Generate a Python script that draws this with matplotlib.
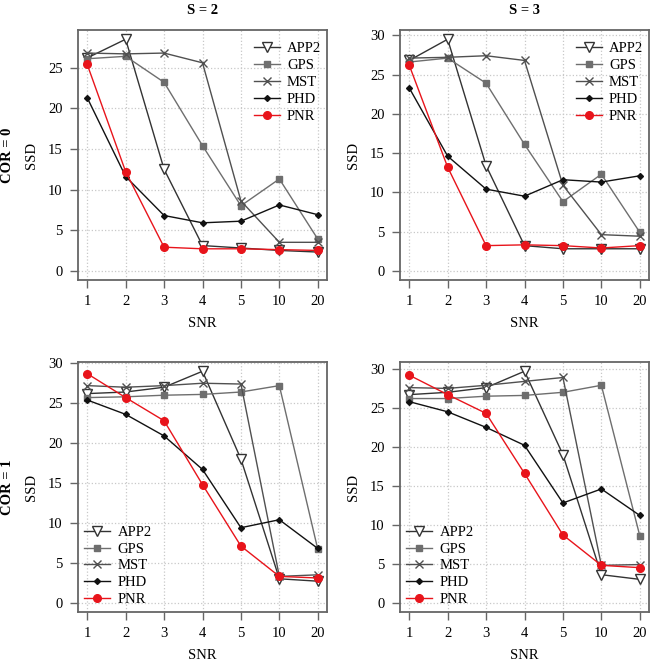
import numpy as np
import matplotlib
matplotlib.use("Agg")
import matplotlib.pyplot as plt

plt.rcParams['font.family'] = ['Liberation Serif', 'DejaVu Serif']

# x axis categories (SNR levels)
snr_labels = ['1', '2', '3', '4', '5', '10', '20']
methods = ['APP2', 'GPS', 'MST', 'PHD', 'PNR']

# COR = 0, S = 2
app2_c0_s2 = [26.2, 28.5, 12.5, 3.1, 2.8, 2.5, 2.3]
gps_c0_s2 = [26.1, 26.4, 23.2, 15.4, 8.0, 11.3, 3.9]
mst_c0_s2 = [26.8, 26.7, 26.8, 25.6, 8.6, 3.5, 3.5]
phd_c0_s2 = [21.3, 11.6, 6.8, 5.9, 6.1, 8.1, 6.9]
pnr_c0_s2 = [25.4, 12.2, 2.9, 2.7, 2.7, 2.6, 2.5]

# COR = 0, S = 3
app2_c0_s3 = [26.8, 29.5, 13.4, 3.2, 2.8, 2.8, 2.8]
gps_c0_s3 = [26.6, 27.1, 23.9, 16.1, 8.8, 12.3, 4.9]
mst_c0_s3 = [27.1, 27.2, 27.4, 26.8, 10.9, 4.6, 4.4]
phd_c0_s3 = [23.3, 14.6, 10.4, 9.5, 11.6, 11.3, 12.1]
pnr_c0_s3 = [26.2, 13.2, 3.2, 3.3, 3.2, 2.9, 3.2]

# COR = 1, S = 2
app2_c1_s2 = [26.2, 26.4, 27.0, 29.0, 18.0, 3.0, 2.7]
gps_c1_s2 = [25.7, 25.8, 26.0, 26.1, 26.4, 27.2, 6.7]
mst_c1_s2 = [27.2, 27.0, 27.2, 27.5, 27.4, 3.3, 3.5]
phd_c1_s2 = [25.4, 23.6, 20.9, 16.7, 9.4, 10.4, 6.8]
pnr_c1_s2 = [28.7, 25.7, 22.8, 14.8, 7.1, 3.3, 3.1]

# COR = 1, S = 3
app2_c1_s3 = [26.7, 27.0, 27.6, 29.7, 19.0, 3.6, 3.0]
gps_c1_s3 = [26.2, 26.2, 26.5, 26.6, 27.0, 27.9, 8.6]
mst_c1_s3 = [27.6, 27.5, 27.9, 28.4, 28.9, 4.8, 4.9]
phd_c1_s3 = [25.8, 24.5, 22.5, 20.2, 12.8, 14.6, 11.2]
pnr_c1_s3 = [29.2, 26.7, 24.3, 16.6, 8.7, 4.8, 4.5]

col_titles = ['S = 2', 'S = 3']
row_titles = ['COR = 0', 'COR = 1']

panels = [
    [[app2_c0_s2, gps_c0_s2, mst_c0_s2, phd_c0_s2, pnr_c0_s2],
     [app2_c0_s3, gps_c0_s3, mst_c0_s3, phd_c0_s3, pnr_c0_s3]],
    [[app2_c1_s2, gps_c1_s2, mst_c1_s2, phd_c1_s2, pnr_c1_s2],
     [app2_c1_s3, gps_c1_s3, mst_c1_s3, phd_c1_s3, pnr_c1_s3]],
]

# line styles per method
styles = {
    'APP2': dict(color='#333333', marker='v', mfc='white', mec='#333333', ms=7, mew=1.0),
    'GPS': dict(color='#6e6e6e', marker='s', mfc='#6e6e6e', mec='#6e6e6e', ms=5),
    'MST': dict(color='#505050', marker='x', mec='#505050', ms=6, mew=1.0),
    'PHD': dict(color='#111111', marker='D', mfc='#111111', mec='#111111', ms=3),
    'PNR': dict(color='#e8141b', marker='o', mfc='#e8141b', mec='#e8141b', ms=5.5),
}

W, H = 650, 663
fig = plt.figure(figsize=(W / 100, H / 100), dpi=100)

lefts = [78, 400]
tops = [30, 362]
aw, ah = 249, 250
x = np.arange(1, len(snr_labels) + 1)
frame_col = '#666666'

for r in range(2):
    for c in range(2):
        ax = fig.add_axes([lefts[c] / W, 1 - (tops[r] + ah) / H, aw / W, ah / H])
        series = panels[r][c]
        for name, vals in zip(methods, series):
            ax.plot(x, vals, lw=1.0, label=name, **styles[name])
        ymax = max(max(s) for s in series)
        ax.set_ylim(-0.04 * ymax, 1.04 * ymax)
        ax.set_xlim(0.76, 7.24)
        ax.set_xticks(x)
        ax.set_xticklabels(snr_labels)
        ax.set_yticks(np.arange(0, 1.04 * ymax, 5))
        ax.grid(True, color='#c8c8c8', linestyle=':', linewidth=0.9)
        ax.set_axisbelow(True)
        for sp in ax.spines.values():
            sp.set_color(frame_col)
            sp.set_linewidth(1.3)
        ax.tick_params(direction='out', length=6, width=1.0, color=frame_col,
                       labelsize=10.5, pad=5)
        ax.set_xlabel('SNR', fontsize=10.5)
        ax.xaxis.set_label_coords(0.5, -0.148)
        ax.set_ylabel('SSD', fontsize=10.5)
        ax.yaxis.set_label_coords(-0.16, 0.5)
        if r == 0:
            ax.legend(loc='upper right', bbox_to_anchor=(1.0, 0.975),
                      frameon=False, fontsize=10.5, handlelength=1.8,
                      labelspacing=0.25, handletextpad=0.5, borderaxespad=0.1,
                      borderpad=0.3)
        else:
            ax.legend(loc='lower left', frameon=False, fontsize=10.5,
                      handlelength=1.8, labelspacing=0.25, handletextpad=0.5,
                      borderaxespad=0.1, borderpad=0.3)

for c in range(2):
    fig.text((lefts[c] + aw / 2) / W, 1 - 10 / H, col_titles[c],
             ha='center', va='center', fontsize=10.5, fontweight='bold')
for r in range(2):
    fig.text(8 / W, 1 - (tops[r] + ah / 2) / H, row_titles[r], rotation=90,
             ha='center', va='center', fontsize=10.5, fontweight='bold')

fig.savefig('out.png', dpi=100)
